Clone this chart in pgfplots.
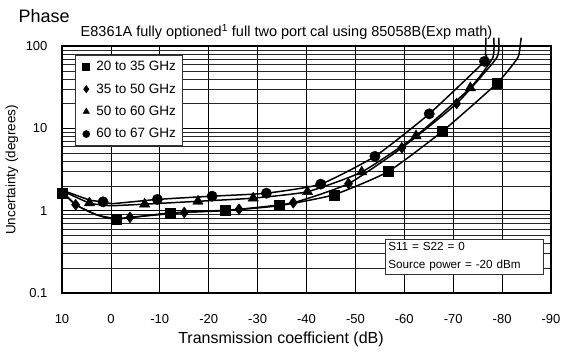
\documentclass[border=0pt]{standalone}
\usepackage{fontspec}
\setmainfont{Liberation Sans}
\usepackage{pgfplots}
\pgfplotsset{compat=1.18}
\begin{document}
\begin{tikzpicture}
\useasboundingbox (-62pt,-58pt) rectangle (499pt,293pt);
\begin{axis}[
    scale only axis,
    width=489pt, height=247pt,
    xmin=-90, xmax=10, x dir=reverse,
    ymode=log, ymin=0.1, ymax=100,
    xtick={-90,-80,...,10},
    xticklabels={-90,-80,-70,-60,-50,-40,-30,-20,-10,0,10},
    ytick={0.1,1,10,100},
    yticklabels={0.1,1,10,100},
    /pgf/number format/assume math mode=true,
    tick label style={font=\fontsize{13}{15}\selectfont},
    xticklabel style={anchor=base, yshift=-30pt},
    yticklabel style={xshift=-11pt},
    major tick length=0pt, minor tick length=0pt,
    grid=both,
    major grid style={black, line width=0.7pt},
    minor grid style={black!85, line width=0.45pt},
    axis line style={line width=2pt},
    clip=false,
    legend cell align=left,
    legend style={at={(0.0266,0.9636)}, anchor=north west,
        font=\fontsize{13.5}{15}\selectfont, draw=black!80, line width=0.6pt,
        row sep=7.5pt, inner sep=4pt, fill=white},
    legend image code/.code={
        \path[draw=none, fill=none] (-2pt,0pt) -- (13pt,0pt);
        \path[draw=none, fill=none] plot[mark repeat=2, mark phase=2, mark size=3.5pt,
              mark options={draw=black, fill=black}]
        coordinates {(0pt,0pt)(5pt,0pt)(10pt,0pt)};},
]
% 20 to 35 GHz
\addplot[black, line width=1.5pt, smooth, tension=0.3, forget plot] coordinates {
 (10,1.72) (7.2,1.18) (2.9,0.89) (-1.1,0.79) (-12.2,0.94) (-23.3,1.0) (-34.4,1.15)
 (-45.6,1.56) (-56.7,2.98) (-67.8,9.2) (-78.9,35) (-83.2,72) (-83.8,113) (-83.9,126)};
% 35 to 50 GHz
\addplot[black, line width=1.5pt, smooth, tension=0.3, forget plot] coordinates {
 (10,1.72) (7.2,1.18) (2.9,0.89) (-1.1,0.80) (-3.9,0.83) (-15,0.95) (-26.2,1.04)
 (-37.3,1.25) (-48.6,2.13) (-59.5,5.8) (-70.7,20) (-78.9,72) (-79.3,126)};
% 50 to 60 GHz
\addplot[black, line width=1.5pt, smooth, tension=0.3, forget plot] coordinates {
 (10,1.75) (4.4,1.24) (0,1.15) (-6.9,1.2) (-17.8,1.3) (-29.1,1.42) (-40.2,1.7)
 (-51.3,2.95) (-62.4,8.1) (-73.5,31) (-78.1,72) (-78.3,126)};
% 60 to 67 GHz
\addplot[black, line width=1.5pt, smooth, tension=0.3, forget plot] coordinates {
 (10,1.78) (4.4,1.35) (1.6,1.28) (-0.5,1.22) (-9.5,1.37) (-20.7,1.5) (-31.8,1.63)
 (-42.9,2.1) (-54,4.57) (-65.1,15) (-76.4,65) (-76.6,80) (-76.7,126)};

\addplot[only marks, mark=square*, mark size=5pt, black] coordinates {
 (10,1.65) (-1.1,0.79) (-12.2,0.94) (-23.3,1.0) (-34.4,1.15) (-45.6,1.56)
 (-56.7,2.98) (-67.8,9.2) (-78.9,35)};
\addlegendentry{20 to 35 GHz}
\addplot[only marks, mark=diamond*, mark size=5.5pt, black] coordinates {
 (7.2,1.18) (-3.9,0.83) (-15,0.95) (-26.2,1.04) (-37.3,1.25) (-48.6,2.13)
 (-59.5,5.8) (-70.7,20)};
\addlegendentry{35 to 50 GHz}
\addplot[only marks, mark=triangle*, mark size=6pt, black] coordinates {
 (4.4,1.24) (-6.9,1.2) (-17.8,1.3) (-29.1,1.42) (-40.2,1.7) (-51.3,2.95)
 (-62.4,8.1) (-73.5,31)};
\addlegendentry{50 to 60 GHz}
\addplot[only marks, mark=*, mark size=5.2pt, black] coordinates {
 (1.6,1.28) (-9.5,1.37) (-20.7,1.5) (-31.8,1.63) (-42.9,2.1) (-54,4.57)
 (-65.1,15) (-76.4,65)};
\addlegendentry{60 to 67 GHz}
\end{axis}
\node[draw=black!80, line width=0.6pt, fill=white, anchor=north west, align=left,
      text width=152pt, inner sep=3pt, font=\fontsize{11.7}{18}\selectfont]
      at (323pt,54pt) {S11 = S22 = 0\\Source power = -20 dBm};
\node[anchor=base west, font=\fontsize{18}{20}\selectfont] at (-47pt,270pt) {Phase};
\node[anchor=base, font=\fontsize{14.5}{16}\selectfont] at (224.5pt,256pt)
      {E8361A fully optioned\textsuperscript{1} full two port cal using 85058B(Exp math)};
\node[rotate=90, font=\fontsize{13.5}{16}\selectfont] at (-50pt,123pt) {Uncertainty (degrees)};
\node[anchor=base, font=\fontsize{16}{18}\selectfont] at (219pt,-50pt) {Transmission coefficient (dB)};
\end{tikzpicture}
\end{document}
